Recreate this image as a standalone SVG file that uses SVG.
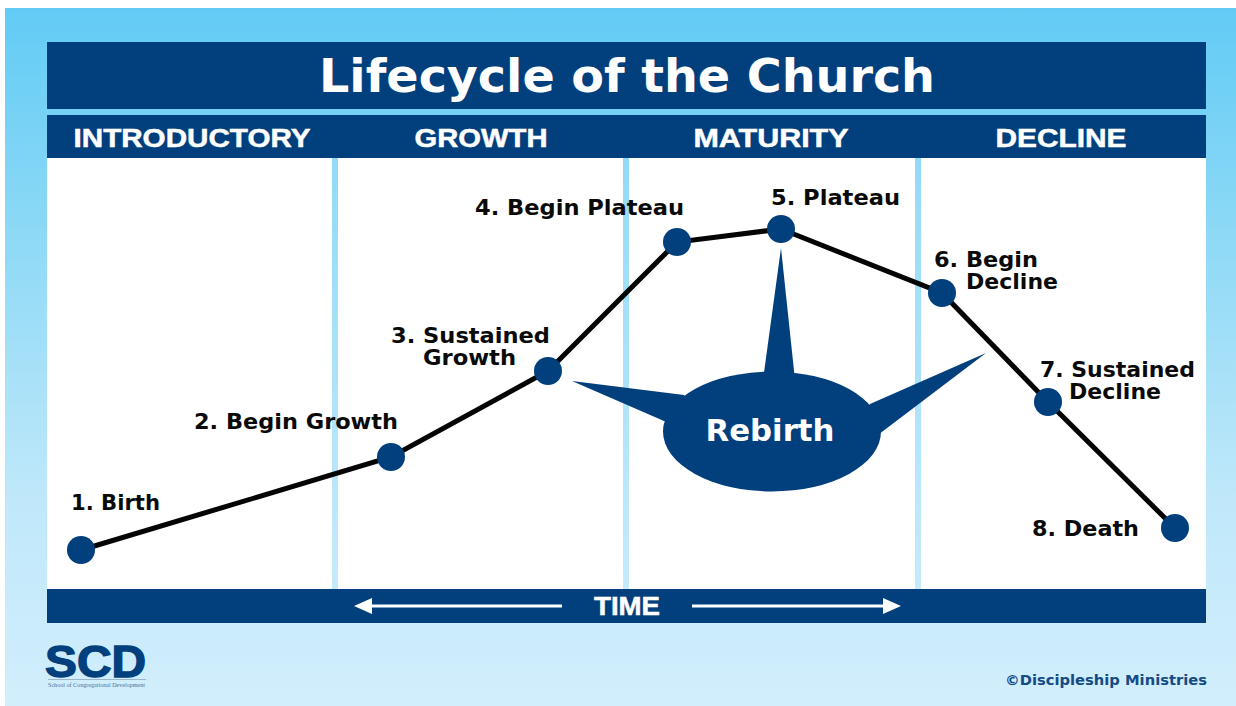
<svg xmlns="http://www.w3.org/2000/svg" width="1236" height="706" viewBox="0 0 1236 706">
<defs>
<linearGradient id="bg" x1="0" y1="0" x2="0" y2="1">
<stop offset="0" stop-color="#62cbf5"/><stop offset="0.3" stop-color="#8ad8f6"/><stop offset="0.7" stop-color="#bfe8fa"/><stop offset="1" stop-color="#d2eefc"/>
</linearGradient>
<linearGradient id="sepg" x1="0" y1="0" x2="0" y2="1">
<stop offset="0" stop-color="#92daf8"/><stop offset="1" stop-color="#c6ebfb"/>
</linearGradient>
</defs>
<style>
.bar{fill:#023f7d}
.sep{fill:url(#sepg)}
.dot{fill:#023f7d}
.lab{font-family:"DejaVu Sans",sans-serif;font-weight:700;font-size:21px;fill:#0a0a0a}
.head{font-family:"Liberation Sans",sans-serif;font-weight:700;font-size:26px;fill:#fff;stroke:#fff;stroke-width:0.5px;text-anchor:middle}
.line{fill:none;stroke:#050505;stroke-width:5;stroke-linejoin:miter}
</style>
<rect width="1236" height="706" fill="#fff"/>
<rect x="5" y="8" width="1231" height="698" fill="url(#bg)"/>
<g id="panel">
<rect x="47" y="158" width="1159" height="431" fill="#fff"/>
<rect class="sep" x="332" y="158" width="6" height="431"/>
<rect class="sep" x="623" y="158" width="6" height="431"/>
<rect class="sep" x="915" y="158" width="6" height="431"/>
</g>
<g id="title">
<rect class="bar" x="47" y="42" width="1159" height="67"/>
<text x="627" y="92" font-family="DejaVu Sans, sans-serif" font-weight="700" font-size="46" fill="#fff" text-anchor="middle" textLength="616" lengthAdjust="spacingAndGlyphs">Lifecycle of the Church</text>
</g>
<g id="phases">
<rect class="bar" x="47" y="115" width="1159" height="43"/>
<text class="head" x="192" y="147" textLength="237" lengthAdjust="spacingAndGlyphs">INTRODUCTORY</text>
<text class="head" x="481" y="147" textLength="133" lengthAdjust="spacingAndGlyphs">GROWTH</text>
<text class="head" x="771" y="147" textLength="155" lengthAdjust="spacingAndGlyphs">MATURITY</text>
<text class="head" x="1061" y="147" textLength="131" lengthAdjust="spacingAndGlyphs">DECLINE</text>
</g>
<g id="time">
<rect class="bar" x="47" y="589" width="1159" height="34"/>
<text class="head" x="627" y="615" textLength="66" lengthAdjust="spacingAndGlyphs">TIME</text>
<path d="M368 606H562M692 606H886" stroke="#fff" stroke-width="3" fill="none"/>
<path d="M354 606L372 598V614Z M901 606L883 598V614Z" fill="#fff"/>
</g>
<g id="connectors">
<polyline class="line" points="81,550 391,457 548,371 677,242 781,229 942,293 1048,402 1175,528"/>
</g>
<g id="rebirth">
<ellipse class="bar" cx="772" cy="431.500" rx="109" ry="60"/>
<path class="bar" d="M781 248L795 380H763Z M572 381L684 395L710 425L664 421Z M986 353L870 404L850 430L880.500 433Z"/>
<text x="770" y="441" font-family="DejaVu Sans, sans-serif" font-weight="700" font-size="30" fill="#fff" text-anchor="middle" textLength="129" lengthAdjust="spacingAndGlyphs">Rebirth</text>
</g>
<g id="n1"><circle class="dot" cx="81" cy="550" r="14"/><text class="lab" x="71" y="510" textLength="89" lengthAdjust="spacingAndGlyphs">1. Birth</text></g>
<g id="n2"><circle class="dot" cx="391" cy="457" r="14"/><text class="lab" x="194" y="429" textLength="204" lengthAdjust="spacingAndGlyphs">2. Begin Growth</text></g>
<g id="n3"><circle class="dot" cx="548" cy="371" r="14"/><text class="lab" x="391" y="343" textLength="159" lengthAdjust="spacingAndGlyphs">3. Sustained</text><text class="lab" x="423" y="365" textLength="93" lengthAdjust="spacingAndGlyphs">Growth</text></g>
<g id="n4"><circle class="dot" cx="677" cy="242" r="14"/><text class="lab" x="475" y="215" textLength="209" lengthAdjust="spacingAndGlyphs">4. Begin Plateau</text></g>
<g id="n5"><circle class="dot" cx="781" cy="229" r="14"/><text class="lab" x="771" y="205" textLength="129" lengthAdjust="spacingAndGlyphs">5. Plateau</text></g>
<g id="n6"><circle class="dot" cx="942" cy="293" r="14"/><text class="lab" x="934" y="267" textLength="104" lengthAdjust="spacingAndGlyphs">6. Begin</text><text class="lab" x="966" y="289" textLength="92" lengthAdjust="spacingAndGlyphs">Decline</text></g>
<g id="n7"><circle class="dot" cx="1048" cy="402" r="14"/><text class="lab" x="1040" y="377" textLength="155" lengthAdjust="spacingAndGlyphs">7. Sustained</text><text class="lab" x="1069" y="399" textLength="92" lengthAdjust="spacingAndGlyphs">Decline</text></g>
<g id="n8"><circle class="dot" cx="1175" cy="528" r="14"/><text class="lab" x="1032" y="536" textLength="107" lengthAdjust="spacingAndGlyphs">8. Death</text></g>
<g id="logo">
<text x="45" y="677" font-family="Liberation Sans, sans-serif" font-weight="700" font-size="44" fill="#023f7d" stroke="#023f7d" stroke-width="1.4" textLength="101" lengthAdjust="spacingAndGlyphs">SCD</text>
<path d="M48 679.500H146" stroke="#7f9dbd" stroke-width="0.700"/>
<text x="48" y="687" font-family="Liberation Serif, serif" font-size="6" fill="#46709f" textLength="97" lengthAdjust="spacingAndGlyphs">School of Congregational Development</text>
</g>
<text id="credit" x="1005" y="685" font-family="DejaVu Sans, sans-serif" font-weight="700" font-size="14" fill="#134b85" textLength="202" lengthAdjust="spacingAndGlyphs">©Discipleship Ministries</text>
</svg>
